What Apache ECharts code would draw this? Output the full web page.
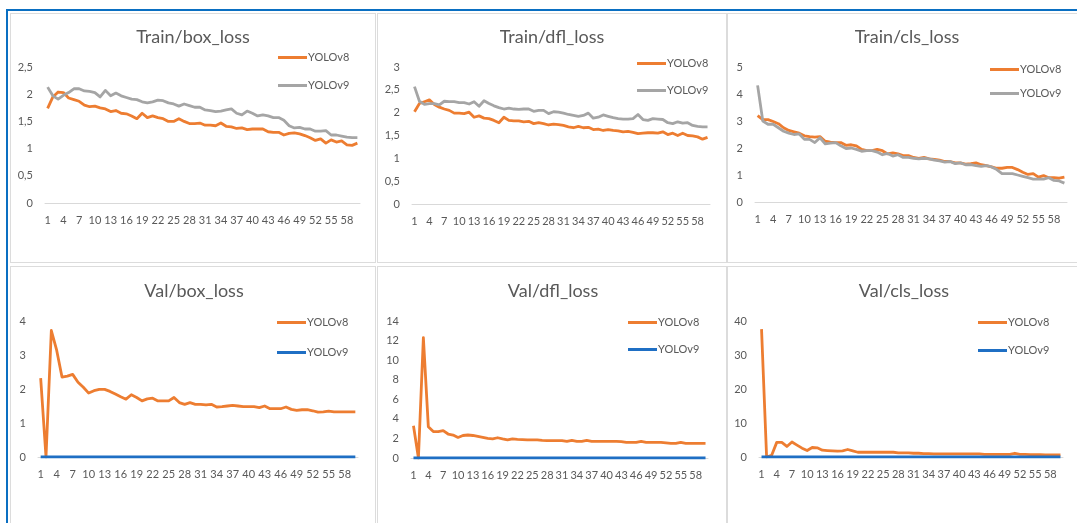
<!DOCTYPE html>
<html>
<head>
<meta charset="utf-8">
<script src="https://cdn.jsdelivr.net/npm/echarts@6/dist/echarts.min.js"></script>
<style>
  html, body { margin: 0; padding: 0; background: #ffffff; }
  #wrap { position: relative; width: 1077px; height: 523px; overflow: hidden; background: #fff; }
  .panel { position: absolute; border: 1px solid #dcdcdc; background: #fff; box-sizing: border-box; }
  .blue { position: absolute; background: #0a6fc2; }
  #chart { position: absolute; left: 0; top: 0; width: 1077px; height: 523px; }
</style>
</head>
<body>
<div id="wrap">
  <div class="blue" style="left:6px;top:9px;width:1071px;height:2px;"></div>
  <div class="blue" style="left:6px;top:9px;width:2px;height:514px;"></div>
  <div class="panel" style="left:10px;top:13px;width:366px;height:250px;"></div>
  <div class="panel" style="left:377px;top:13px;width:350px;height:250px;"></div>
  <div class="panel" style="left:727px;top:13px;width:355px;height:250px;"></div>
  <div class="panel" style="left:10px;top:266px;width:366px;height:262px;"></div>
  <div class="panel" style="left:377px;top:266px;width:350px;height:262px;"></div>
  <div class="panel" style="left:727px;top:266px;width:355px;height:262px;"></div>
  <div id="chart"></div>
</div>
<script>
// ---- data ----
var epochs = ['1','2','3','4','5','6','7','8','9','10','11','12','13','14','15','16','17','18','19','20',
  '21','22','23','24','25','26','27','28','29','30','31','32','33','34','35','36','37','38','39','40',
  '41','42','43','44','45','46','47','48','49','50','51','52','53','54','55','56','57','58','59','60'];

var panelTitles = ['Train/box_loss', 'Train/dfl_loss', 'Train/cls_loss', 'Val/box_loss', 'Val/dfl_loss', 'Val/cls_loss'];
var seriesNames = ['YOLOv8', 'YOLOv9'];

var trainBoxV8 = [1.74,1.95,2.04,2.03,1.93,1.9,1.87,1.8,1.77,1.78,
  1.75,1.73,1.68,1.7,1.65,1.64,1.6,1.55,1.65,1.57,
  1.6,1.57,1.55,1.5,1.5,1.55,1.5,1.46,1.46,1.47,
  1.43,1.43,1.42,1.47,1.41,1.4,1.37,1.38,1.35,1.36,
  1.36,1.36,1.31,1.3,1.3,1.25,1.28,1.29,1.27,1.24,
  1.2,1.15,1.18,1.1,1.16,1.12,1.14,1.07,1.06,1.1];
var trainBoxV9 = [2.13,1.97,1.91,1.98,2.03,2.1,2.1,2.06,2.05,2.03,
  1.95,2.07,1.97,2.02,1.97,1.94,1.91,1.9,1.86,1.84,
  1.86,1.89,1.88,1.84,1.82,1.78,1.82,1.79,1.76,1.76,
  1.71,1.7,1.68,1.69,1.71,1.73,1.65,1.62,1.69,1.65,
  1.6,1.62,1.6,1.57,1.57,1.52,1.42,1.38,1.39,1.36,
  1.36,1.32,1.32,1.33,1.25,1.25,1.23,1.21,1.2,1.2];

var trainDflV8 = [2.02,2.2,2.24,2.28,2.18,2.12,2.08,2.05,1.99,1.99,
  1.98,2.01,1.9,1.93,1.88,1.87,1.83,1.78,1.9,1.83,
  1.82,1.82,1.8,1.81,1.76,1.78,1.76,1.73,1.75,1.74,
  1.72,1.69,1.67,1.7,1.67,1.68,1.63,1.64,1.61,1.63,
  1.61,1.6,1.58,1.59,1.57,1.54,1.55,1.56,1.56,1.55,
  1.58,1.52,1.55,1.5,1.55,1.5,1.49,1.47,1.42,1.46];
var trainDflV9 = [2.57,2.25,2.18,2.2,2.2,2.17,2.25,2.24,2.24,2.22,
  2.22,2.19,2.24,2.14,2.26,2.2,2.15,2.11,2.08,2.1,
  2.08,2.07,2.08,2.08,2.03,2.05,2.05,1.98,2.02,2.01,
  1.99,1.96,1.94,1.92,1.94,1.99,1.88,1.9,1.95,1.92,
  1.89,1.87,1.86,1.86,1.87,1.96,1.85,1.83,1.87,1.86,
  1.85,1.78,1.76,1.8,1.77,1.78,1.72,1.7,1.69,1.69];

var trainClsV8 = [3.2,3.05,3.05,2.98,2.9,2.75,2.65,2.6,2.55,2.45,
  2.42,2.4,2.42,2.25,2.22,2.2,2.2,2.1,2.12,2.08,
  1.95,1.9,1.9,1.95,1.9,1.78,1.82,1.78,1.72,1.72,
  1.65,1.62,1.65,1.6,1.58,1.55,1.5,1.5,1.45,1.45,
  1.4,1.42,1.45,1.38,1.35,1.3,1.25,1.25,1.28,1.28,
  1.2,1.1,1.02,1.05,0.92,0.98,0.9,0.9,0.88,0.92];
var trainClsV9 = [4.32,3.0,2.88,2.88,2.75,2.62,2.55,2.5,2.52,2.32,
  2.32,2.2,2.38,2.15,2.18,2.2,2.08,1.98,2.0,1.95,
  1.88,1.9,1.9,1.85,1.75,1.8,1.7,1.75,1.65,1.65,
  1.62,1.6,1.62,1.6,1.55,1.52,1.48,1.5,1.42,1.45,
  1.38,1.38,1.35,1.32,1.35,1.3,1.2,1.05,1.05,1.05,
  1.0,0.95,0.9,0.85,0.85,0.85,0.9,0.8,0.78,0.7];

var valBoxV8 = [2.32,0,3.72,3.14,2.35,2.38,2.43,2.2,2.05,1.88,
  1.95,1.99,1.99,1.93,1.85,1.77,1.7,1.83,1.75,1.65,
  1.71,1.73,1.65,1.65,1.65,1.75,1.6,1.55,1.6,1.55,
  1.55,1.53,1.55,1.47,1.48,1.5,1.52,1.5,1.48,1.48,
  1.48,1.45,1.5,1.42,1.42,1.42,1.47,1.4,1.37,1.39,
  1.39,1.36,1.32,1.33,1.35,1.33,1.33,1.33,1.33,1.33];
var valBoxV9 = [0,0,0,0,0,0,0,0,0,0, 0,0,0,0,0,0,0,0,0,0, 0,0,0,0,0,0,0,0,0,0,
  0,0,0,0,0,0,0,0,0,0, 0,0,0,0,0,0,0,0,0,0, 0,0,0,0,0,0,0,0,0,0];

var valDflV8 = [3.3,0,12.3,3.2,2.7,2.7,2.8,2.45,2.35,2.1,
  2.3,2.35,2.3,2.2,2.1,2.0,1.95,2.07,1.95,1.85,
  1.95,1.9,1.88,1.85,1.85,1.85,1.8,1.78,1.78,1.78,
  1.78,1.7,1.8,1.7,1.7,1.8,1.7,1.7,1.7,1.7,
  1.7,1.7,1.68,1.6,1.6,1.6,1.7,1.6,1.6,1.6,
  1.6,1.55,1.5,1.5,1.6,1.5,1.5,1.5,1.5,1.5];
var valDflV9 = [0,0,0,0,0,0,0,0,0,0, 0,0,0,0,0,0,0,0,0,0, 0,0,0,0,0,0,0,0,0,0,
  0,0,0,0,0,0,0,0,0,0, 0,0,0,0,0,0,0,0,0,0, 0,0,0,0,0,0,0,0,0,0];

var valClsV8 = [37.6,0,0.5,4.3,4.3,3.1,4.4,3.5,2.6,1.9,
  2.8,2.7,2.0,1.9,1.8,1.7,1.8,2.2,1.8,1.4,
  1.4,1.4,1.4,1.4,1.4,1.4,1.4,1.2,1.2,1.2,
  1.1,1.1,1.0,1.0,0.9,0.9,0.9,0.9,0.9,0.9,
  0.9,0.9,0.9,0.9,0.8,0.8,0.8,0.8,0.8,0.8,
  1.1,0.8,0.8,0.7,0.7,0.7,0.6,0.6,0.6,0.6];
var valClsV9 = [0,0,0,0,0,0,0,0,0,0, 0,0,0,0,0,0,0,0,0,0, 0,0,0,0,0,0,0,0,0,0,
  0,0,0,0,0,0,0,0,0,0, 0,0,0,0,0,0,0,0,0,0, 0,0,0,0,0,0,0,0,0,0];

var yMax = [2.5, 3, 5, 4, 14, 40];
var yStep = [0.5, 0.5, 1, 1, 2, 10];

// ---- layout / style ----
var FONT = 'Lato, "Open Sans", sans-serif';
var TXT = '#595959';
var ORANGE = '#ed7d31', GREY = '#a5a5a5', BLUE = '#1f6fc4';

var grids = [
  {left: 45,  top: 67,  width: 315, height: 136},
  {left: 412, top: 67,  width: 298, height: 137},
  {left: 755, top: 67,  width: 312, height: 135},
  {left: 38,  top: 321, width: 320, height: 136},
  {left: 411, top: 321, width: 297, height: 137},
  {left: 759, top: 321, width: 304, height: 136}
];
var titlePos = [[193, 28], [552, 28], [907, 28], [194, 282], [553, 282], [904, 282]];
var legendPos = [
  {left: 278, top: 52, itemGap: 17},
  {left: 637, top: 58, itemGap: 16},
  {left: 990, top: 64, itemGap: 13},
  {left: 277, top: 317, itemGap: 19},
  {left: 628, top: 317, itemGap: 16},
  {left: 978, top: 317, itemGap: 17}
];
var pairs = [
  [trainBoxV8, trainBoxV9], [trainDflV8, trainDflV9], [trainClsV8, trainClsV9],
  [valBoxV8, valBoxV9], [valDflV8, valDflV9], [valClsV8, valClsV9]
];

var option = {
  backgroundColor: 'transparent',
  animation: false,
  textStyle: {fontFamily: FONT},
  title: [], legend: [], grid: [], xAxis: [], yAxis: [], series: []
};

for (var i = 0; i < 6; i++) {
  var secondColor = i < 3 ? GREY : BLUE;
  option.title.push({
    text: panelTitles[i], left: titlePos[i][0], top: titlePos[i][1], textAlign: 'center', padding: 0,
    textStyle: {fontFamily: FONT, fontSize: 18, fontWeight: 'normal', color: TXT}
  });
  option.legend.push({
    orient: 'vertical', left: legendPos[i].left, top: legendPos[i].top, itemGap: legendPos[i].itemGap,
    itemWidth: 29, itemHeight: 3, icon: 'rect', padding: 0, selectedMode: false,
    textStyle: {fontFamily: FONT, fontSize: 11, color: TXT, padding: [0, 0, 0, -4]},
    data: [
      {name: seriesNames[0], itemStyle: {color: ORANGE}},
      {name: seriesNames[1], itemStyle: {color: secondColor}}
    ]
  });
  option.grid.push(Object.assign({containLabel: false}, grids[i]));
  option.xAxis.push({
    type: 'category', gridIndex: i, data: epochs, boundaryGap: true,
    axisTick: {show: false},
    axisLine: {show: true, lineStyle: {color: '#d9d9d9', width: 1}},
    axisLabel: {interval: 2, color: TXT, fontFamily: FONT, fontSize: 11, margin: 12},
    splitLine: {show: false}
  });
  option.yAxis.push({
    type: 'value', gridIndex: i, min: 0, max: yMax[i], interval: yStep[i],
    axisLine: {show: false}, axisTick: {show: false}, splitLine: {show: false},
    axisLabel: {color: TXT, fontFamily: FONT, fontSize: 11, margin: 12,
      formatter: function (v) { return String(v).replace('.', ','); }}
  });
  option.series.push({
    name: seriesNames[0], type: 'line', xAxisIndex: i, yAxisIndex: i, data: pairs[i][0],
    symbol: 'none', lineStyle: {color: ORANGE, width: 2.8, join: 'round'}, itemStyle: {color: ORANGE}
  });
  option.series.push({
    name: seriesNames[1], type: 'line', xAxisIndex: i, yAxisIndex: i, data: pairs[i][1],
    symbol: 'none', lineStyle: {color: secondColor, width: 2.8, join: 'round'}, itemStyle: {color: secondColor}
  });
}

var chart = echarts.init(document.getElementById('chart'), null, {renderer: 'canvas'});
chart.setOption(option);
</script>
</body>
</html>
